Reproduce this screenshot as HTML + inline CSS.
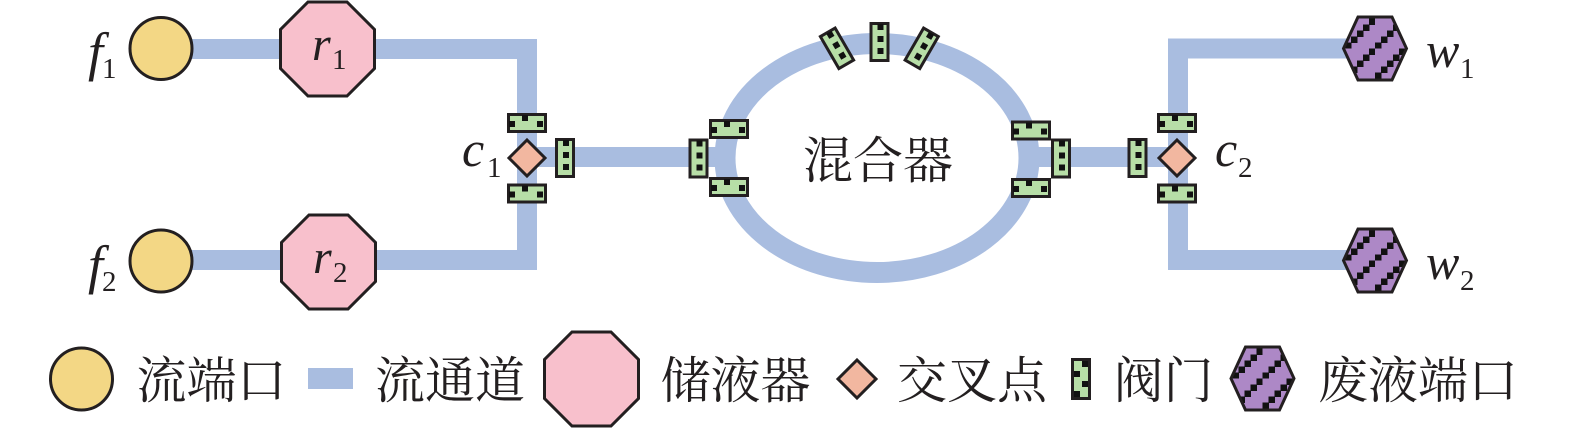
<!DOCTYPE html>
<html>
<head>
<meta charset="utf-8">
<style>
html,body{margin:0;padding:0;background:#ffffff;}
svg{display:block;}
.cjk{font-family:"Liberation Serif","Noto Serif CJK SC","Noto Sans CJK SC",serif;fill:#231f20;}
.it{font-family:"Liberation Serif",serif;font-style:italic;fill:#231f20;}
.sub{font-family:"Liberation Serif",serif;fill:#231f20;}
</style>
</head>
<body>
<svg width="1575" height="428" viewBox="0 0 1575 428" xmlns="http://www.w3.org/2000/svg">
<defs>
  <pattern id="hp" width="30" height="30" patternUnits="userSpaceOnUse">
    <rect x="0" y="0" width="30" height="30" fill="#ad88c6"/>
    <rect x="0" y="24" width="6.5" height="6.5" fill="#111"/>
    <rect x="6" y="18" width="6.5" height="6.5" fill="#111"/>
    <rect x="12" y="12" width="6.5" height="6.5" fill="#111"/>
    <rect x="18" y="6" width="6.5" height="6.5" fill="#111"/>
    <rect x="24" y="0" width="6.5" height="6.5" fill="#111"/>
  </pattern>
  <g id="vh">
    <rect x="-18.5" y="-8.5" width="37" height="17" fill="#b7dea7" stroke="#231f20" stroke-width="3"/>
    <rect x="-18" y="-2" width="6" height="6" fill="#111"/>
    <rect x="-5" y="-8" width="6" height="6" fill="#111"/>
    <rect x="10" y="-2" width="6" height="6" fill="#111"/>
  </g>
  <g id="vv">
    <rect x="-8.5" y="-18.5" width="17" height="37" fill="#b7dea7" stroke="#231f20" stroke-width="3"/>
    <rect x="-2" y="-18" width="6" height="6" fill="#111"/>
    <rect x="-2" y="-6" width="6" height="6" fill="#111"/>
    <rect x="-2" y="6" width="6" height="6" fill="#111"/>
  </g>
  <g id="oct">
    <polygon points="-19.5,-47 19.5,-47 47,-19.5 47,19.5 19.5,47 -19.5,47 -47,19.5 -47,-19.5" fill="#f8c0cc" stroke="#231f20" stroke-width="3" stroke-linejoin="miter"/>
  </g>
  <g id="hex">
    <polygon points="-31.5,0 -17,-31.5 17,-31.5 31.5,0 17,31.5 -17,31.5" fill="url(#hp)" stroke="#231f20" stroke-width="3"/>
  </g>
  <g id="dia">
    <polygon points="0,-18 18,0 0,18 -18,0" fill="#f2b7a0" stroke="#231f20" stroke-width="3"/>
  </g>
  <g id="cir">
    <circle cx="0" cy="0" r="31" fill="#f3d785" stroke="#231f20" stroke-width="3"/>
  </g>
</defs>

<!-- channels -->
<g fill="none" stroke="#a9bde0" stroke-width="20" stroke-linejoin="miter">
  <path d="M161 49 H527 V260 H161"/>
  <path d="M527 157 H725"/>
  <path d="M1030 157 H1178"/>
  <path d="M1375 48.5 H1178 V260 H1375"/>
</g>
<ellipse cx="877" cy="158" rx="152" ry="114.5" fill="none" stroke="#a9bde0" stroke-width="21"/>

<!-- flow ports -->
<use href="#cir" x="161" y="48.5"/>
<use href="#cir" x="161" y="261"/>

<!-- reservoirs -->
<use href="#oct" x="327.5" y="49"/>
<use href="#oct" x="328.5" y="262"/>

<!-- waste ports -->
<use href="#hex" x="1375" y="48.5"/>
<use href="#hex" x="1375" y="260.5"/>

<!-- crossings -->
<use href="#dia" x="527" y="158"/>
<use href="#dia" x="1177" y="158"/>

<!-- valves c1 -->
<use href="#vh" x="527" y="123"/>
<use href="#vh" x="527" y="193.5"/>
<use href="#vv" x="565" y="158"/>

<!-- valves mixer left -->
<use href="#vv" x="698.5" y="158.5"/>
<use href="#vh" x="729" y="129"/>
<use href="#vh" x="729" y="187"/>

<!-- valves mixer right -->
<use href="#vv" x="1061" y="158.5"/>
<use href="#vh" x="1031" y="130.5"/>
<use href="#vh" x="1031" y="188"/>

<!-- valves mixer top -->
<use href="#vv" x="879.5" y="42"/>
<g transform="translate(837,48.3) rotate(-30)"><use href="#vv"/></g>
<g transform="translate(921.7,48.3) rotate(30)"><use href="#vv"/></g>

<!-- valves c2 -->
<use href="#vv" x="1137.5" y="158"/>
<use href="#vh" x="1177" y="123"/>
<use href="#vh" x="1177" y="193.5"/>

<!-- mixer label -->
<text class="cjk" x="878" y="178" font-size="50" text-anchor="middle">混合器</text>

<!-- italic labels -->
<text class="it" x="88" y="70" font-size="54">f</text>
<text class="sub" x="102" y="78" font-size="29">1</text>
<text class="it" x="88" y="283" font-size="54">f</text>
<text class="sub" x="102" y="291" font-size="29">2</text>

<text class="it" x="312" y="60" font-size="48">r</text>
<text class="sub" x="332" y="69" font-size="29">1</text>
<text class="it" x="313" y="273" font-size="48">r</text>
<text class="sub" x="333" y="282" font-size="29">2</text>

<text class="it" x="462" y="166" font-size="50">c</text>
<text class="sub" x="487" y="177" font-size="29">1</text>
<text class="it" x="1215" y="166" font-size="50">c</text>
<text class="sub" x="1238" y="177" font-size="29">2</text>

<text class="it" x="1426" y="67" font-size="50">w</text>
<text class="sub" x="1460" y="78" font-size="29">1</text>
<text class="it" x="1426" y="279" font-size="50">w</text>
<text class="sub" x="1460" y="290" font-size="29">2</text>

<!-- legend -->
<g transform="translate(81.5,379)"><circle cx="0" cy="0" r="31" fill="#f3d785" stroke="#231f20" stroke-width="3"/></g>
<text class="cjk" x="211.5" y="398" font-size="50" text-anchor="middle">流端口</text>

<rect x="308" y="368" width="45" height="21" fill="#a9bde0"/>
<text class="cjk" x="450" y="398" font-size="50" text-anchor="middle">流通道</text>

<use href="#oct" x="591.5" y="379"/>
<text class="cjk" x="735.5" y="398" font-size="50" text-anchor="middle">储液器</text>

<g transform="translate(857,379)"><polygon points="0,-19 19,0 0,19 -19,0" fill="#f2b7a0" stroke="#231f20" stroke-width="3"/></g>
<text class="cjk" x="972" y="398" font-size="50" text-anchor="middle">交叉点</text>

<g transform="translate(1081,379)">
  <rect x="-8.5" y="-19.5" width="17" height="39" fill="#b7dea7" stroke="#231f20" stroke-width="3"/>
  <rect x="1" y="-18" width="6" height="6" fill="#111"/>
  <rect x="-7" y="-8" width="6" height="6" fill="#111"/>
  <rect x="1" y="2" width="6" height="6" fill="#111"/>
  <rect x="-7" y="12" width="6" height="6" fill="#111"/>
</g>
<text class="cjk" x="1163.5" y="398" font-size="50" text-anchor="middle">阀门</text>

<use href="#hex" x="1262.5" y="378.5"/>
<text class="cjk" x="1418" y="398" font-size="50" text-anchor="middle">废液端口</text>
</svg>
</body>
</html>
